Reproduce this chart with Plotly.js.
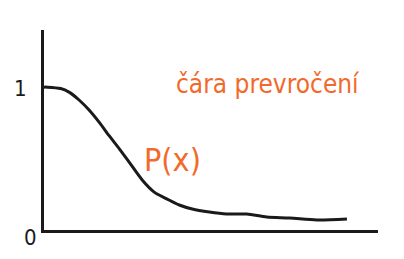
<!DOCTYPE html>
<html><head><meta charset="utf-8">
<script src="https://cdn.plot.ly/plotly-3.0.1.min.js"></script>
<style>html,body{margin:0;padding:0;background:#fff;}#chart{width:404px;height:259px;}</style>
</head><body><div id="chart"></div>
<script>
const xValues = [0, 1, 5, 7.5, 10.5, 13.5, 16.5, 19.5, 22.5, 25.5, 29.4, 33, 36.6, 40.5, 44.4, 49.5, 54.7, 60.7, 66.7, 73.6, 81.7, 90.7];
const pValues = [1.0, 1.0, 0.99, 0.965, 0.91, 0.84, 0.755, 0.66, 0.57, 0.475, 0.35, 0.265, 0.22, 0.175, 0.147, 0.126, 0.112, 0.112, 0.091, 0.084, 0.07, 0.077];
const tickValues = [0, 1];
const tickLabels = ['0', '1'];
const curveLabel = 'P(x)';
const noteLabel = 'čára prevročení';

const handFont = '"Liberation Sans Narrow", "DejaVu Sans Condensed", Roboto, sans-serif';
const orange = '#f26a2b';

const trace = {
  x: xValues, y: pValues, type: 'scatter', mode: 'lines',
  line: {color: '#1a1a1a', width: 3, shape: 'spline', smoothing: 0.8},
  hoverinfo: 'none'
};

const tickOffsets = [{x: -14, y: 7}, {x: -24, y: 1}];
const annotations = tickValues.map((v, i) => ({
  x: 0, y: v, xref: 'x', yref: 'y', text: tickLabels[i], showarrow: false,
  xanchor: 'center', yanchor: 'middle', xshift: tickOffsets[i].x, yshift: -tickOffsets[i].y,
  font: {family: handFont, size: 22, color: '#1a1a1a'}
}));
annotations.push({x: 38.5, y: 0.49, xref: 'x', yref: 'y', text: curveLabel, showarrow: false,
  font: {family: handFont, size: 32, color: orange}});
annotations.push({x: 67, y: 1.02, xref: 'x', yref: 'y', text: noteLabel, showarrow: false,
  font: {family: handFont, size: 26, color: orange}});

const layout = {
  width: 404, height: 259,
  margin: {l: 44, r: 26, t: 30, b: 29},
  paper_bgcolor: '#fff', plot_bgcolor: '#fff',
  showlegend: false,
  xaxis: {range: [0, 100], showline: true, linecolor: '#1a1a1a', linewidth: 3,
    showgrid: false, zeroline: false, showticklabels: false, ticks: ''},
  yaxis: {range: [0, 1.4], showline: true, linecolor: '#1a1a1a', linewidth: 3,
    showgrid: false, zeroline: false, showticklabels: false, ticks: ''},
  annotations: annotations
};

Plotly.newPlot('chart', [trace], layout, {staticPlot: true, displayModeBar: false});
</script></body></html>
